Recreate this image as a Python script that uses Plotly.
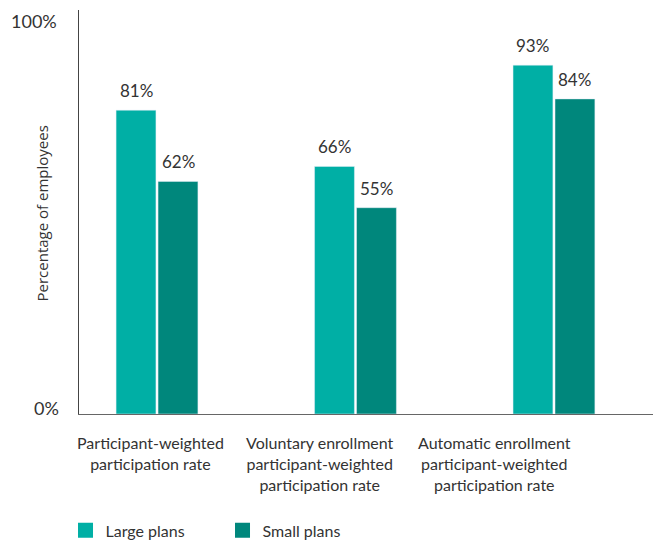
import plotly.graph_objects as go

# Participation rates by plan size
categories = [
    "Participant-weighted<br>participation rate",
    "Voluntary enrollment<br>participant-weighted<br>participation rate",
    "Automatic enrollment<br>participant-weighted<br>participation rate",
]
large_plans = [81, 66, 93]
small_plans = [62, 55, 84]
series_names = ["Large plans", "Small plans"]

LARGE_COLOR = "#00AFA5"
SMALL_COLOR = "#00877C"
TEXT_COLOR = "#333333"
FONT = "Lato"

x_pos = list(range(len(categories)))

fig = go.Figure()
for name, vals, color in [
    (series_names[0], large_plans, LARGE_COLOR),
    (series_names[1], small_plans, SMALL_COLOR),
]:
    fig.add_trace(go.Bar(
        x=x_pos, y=vals, name=name, marker_color=color,
        showlegend=False, hoverinfo="y",
    ))
    # square legend swatch
    fig.add_trace(go.Scatter(
        x=[None], y=[None], mode="markers", name=name,
        marker=dict(symbol="square", size=15, color=color),
    ))

annotations = []
# value labels above each bar
for vals, shift in [(large_plans, -21), (small_plans, 21)]:
    for i, v in enumerate(vals):
        annotations.append(dict(
            x=i, y=v, xref="x", yref="y", text=f"{v}%", showarrow=False,
            xshift=shift, yanchor="bottom", yshift=7,
            font=dict(family=FONT, size=17, color=TEXT_COLOR),
        ))

# category labels under the axis
label_x = [0.1237, 0.4199, 0.723]
for lx, cat in zip(label_x, categories):
    annotations.append(dict(
        x=lx, y=0, xref="paper", yref="paper", text=cat, showarrow=False,
        xanchor="center", yanchor="top", yshift=-17, align="center",
        font=dict(family=FONT, size=16, color=TEXT_COLOR),
    ))

# axis end labels
annotations.append(dict(
    x=-0.031, y=0, xref="paper", yref="y", text="0%", showarrow=False,
    xanchor="right", yanchor="middle", yshift=6,
    font=dict(family=FONT, size=18, color=TEXT_COLOR),
))
annotations.append(dict(
    x=-0.035, y=1, xref="paper", yref="paper", text="100%", showarrow=False,
    xanchor="right", yanchor="middle", yshift=-11,
    font=dict(family=FONT, size=18, color=TEXT_COLOR),
))
# y-axis title
annotations.append(dict(
    x=-0.064, y=0.497, xref="paper", yref="paper", text="Percentage of employees",
    showarrow=False, textangle=-90, xanchor="center", yanchor="middle",
    font=dict(family="Open Sans", size=15, color=TEXT_COLOR),
))

fig.update_layout(
    width=656, height=543,
    margin=dict(l=79, r=3, t=10, b=129, autoexpand=False),
    paper_bgcolor="white", plot_bgcolor="white",
    barmode="group", bargap=0.577, bargroupgap=0.05,
    annotations=annotations,
    xaxis=dict(
        range=[-0.393, 2.499], showticklabels=False, showgrid=False,
        zeroline=False, showline=True, linecolor="#666666", linewidth=1,
        ticks="", fixedrange=True,
    ),
    yaxis=dict(
        range=[0, 107.7], showticklabels=False, showgrid=False,
        zeroline=False, showline=True, linecolor="#444444", linewidth=1,
        ticks="", fixedrange=True,
    ),
    legend=dict(
        orientation="h", x=-0.0235, xanchor="left", y=-0.246, yanchor="top",
        font=dict(family=FONT, size=16, color=TEXT_COLOR),
        entrywidth=112, entrywidthmode="pixels",
        bgcolor="rgba(0,0,0,0)",
    ),
    showlegend=True,
)

fig.write_html("out.html")
